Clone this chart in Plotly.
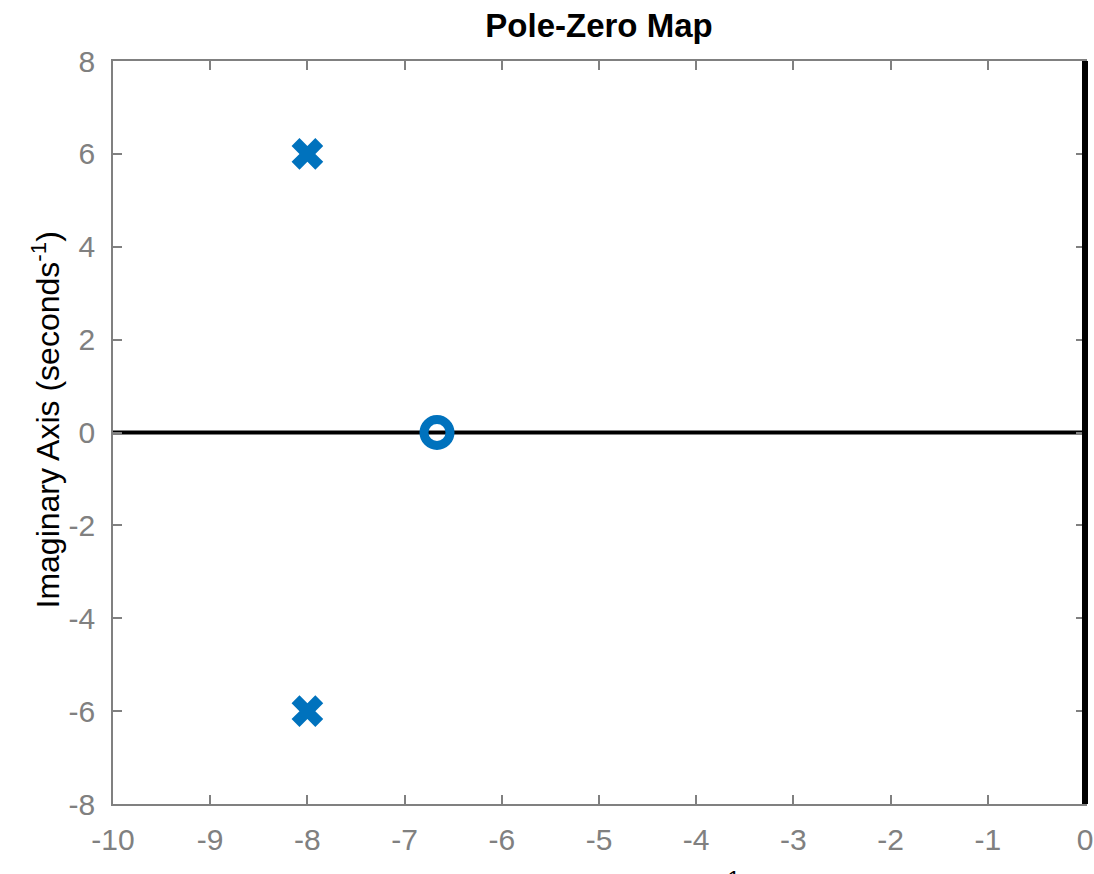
import plotly.graph_objects as go

# Pole-zero data of the system
pole_re = [-8, -8]
pole_im = [6, -6]
zero_re = [-20 / 3]
zero_im = [0]

# Axis limits and ticks
x_range = [-10, 0]
y_range = [-8, 8]
x_ticks = [-10, -9, -8, -7, -6, -5, -4, -3, -2, -1, 0]
y_ticks = [-8, -6, -4, -2, 0, 2, 4, 6, 8]

BLUE = "#0072BD"
GRAY = "#808080"
FONT = "Liberation Sans, Arial, Helvetica, sans-serif"

fig = go.Figure()

# Real axis line (Im = 0)
fig.add_trace(go.Scatter(
    x=x_range, y=[0, 0], mode="lines",
    line=dict(color="black", width=4), hoverinfo="skip", showlegend=False,
))

# Poles
fig.add_trace(go.Scatter(
    x=pole_re, y=pole_im, mode="markers", cliponaxis=False,
    marker=dict(symbol="x", size=28, color=BLUE, line=dict(width=0)),
    showlegend=False,
))
# Zero
fig.add_trace(go.Scatter(
    x=zero_re, y=zero_im, mode="markers", cliponaxis=False,
    marker=dict(symbol="circle-open", size=26, color=BLUE, line=dict(width=9, color=BLUE)),
    showlegend=False,
))

# Imaginary axis line (Re = 0), drawn unclipped across the right edge
re0_frac = (0 - x_range[0]) / (x_range[1] - x_range[0])
fig.add_shape(
    type="line", xref="x domain", yref="y",
    x0=re0_frac, x1=re0_frac, y0=y_range[0], y1=y_range[1],
    line=dict(color="black", width=6), layer="above",
)

axis_common = dict(
    showline=True, linecolor=GRAY, linewidth=1.5, mirror="allticks",
    ticks="inside", ticklen=9, tickwidth=1.5, tickcolor=GRAY,
    showgrid=False, zeroline=False, automargin=False,
    tickfont=dict(family=FONT, size=30, color=GRAY),
)

fig.update_xaxes(range=x_range, tickvals=x_ticks, ticktext=[str(v) for v in x_ticks],
                 ticklabelstandoff=8, **axis_common)
fig.update_yaxes(range=y_range, tickvals=y_ticks, ticktext=[str(v) for v in y_ticks],
                 ticklabelstandoff=10, **axis_common)

fig.update_layout(
    width=1094, height=874,
    margin=dict(l=113, r=9, t=61, b=70),
    paper_bgcolor="white", plot_bgcolor="white",
    title=dict(
        text="Pole-Zero Map", xref="paper", x=0.5, xanchor="center",
        y=1 - 25 / 874, yanchor="middle",
        font=dict(family=FONT, size=33, color="black", weight="bold"),
    ),
    annotations=[
        dict(
            text="Imaginary Axis (seconds<sup>-1</sup>)",
            xref="paper", yref="paper", x=0, y=0.5,
            xanchor="center", yanchor="middle", xshift=-68, yshift=12,
            textangle=-90, showarrow=False,
            font=dict(family=FONT, size=32, color="black"),
        ),
        dict(
            text="Real Axis (seconds<sup>-1</sup>)",
            xref="paper", yref="paper", x=0.5, y=0,
            xanchor="center", yanchor="middle", yshift=-82,
            showarrow=False,
            font=dict(family=FONT, size=32, color="black"),
        ),
    ],
)

fig.write_html("out.html")
